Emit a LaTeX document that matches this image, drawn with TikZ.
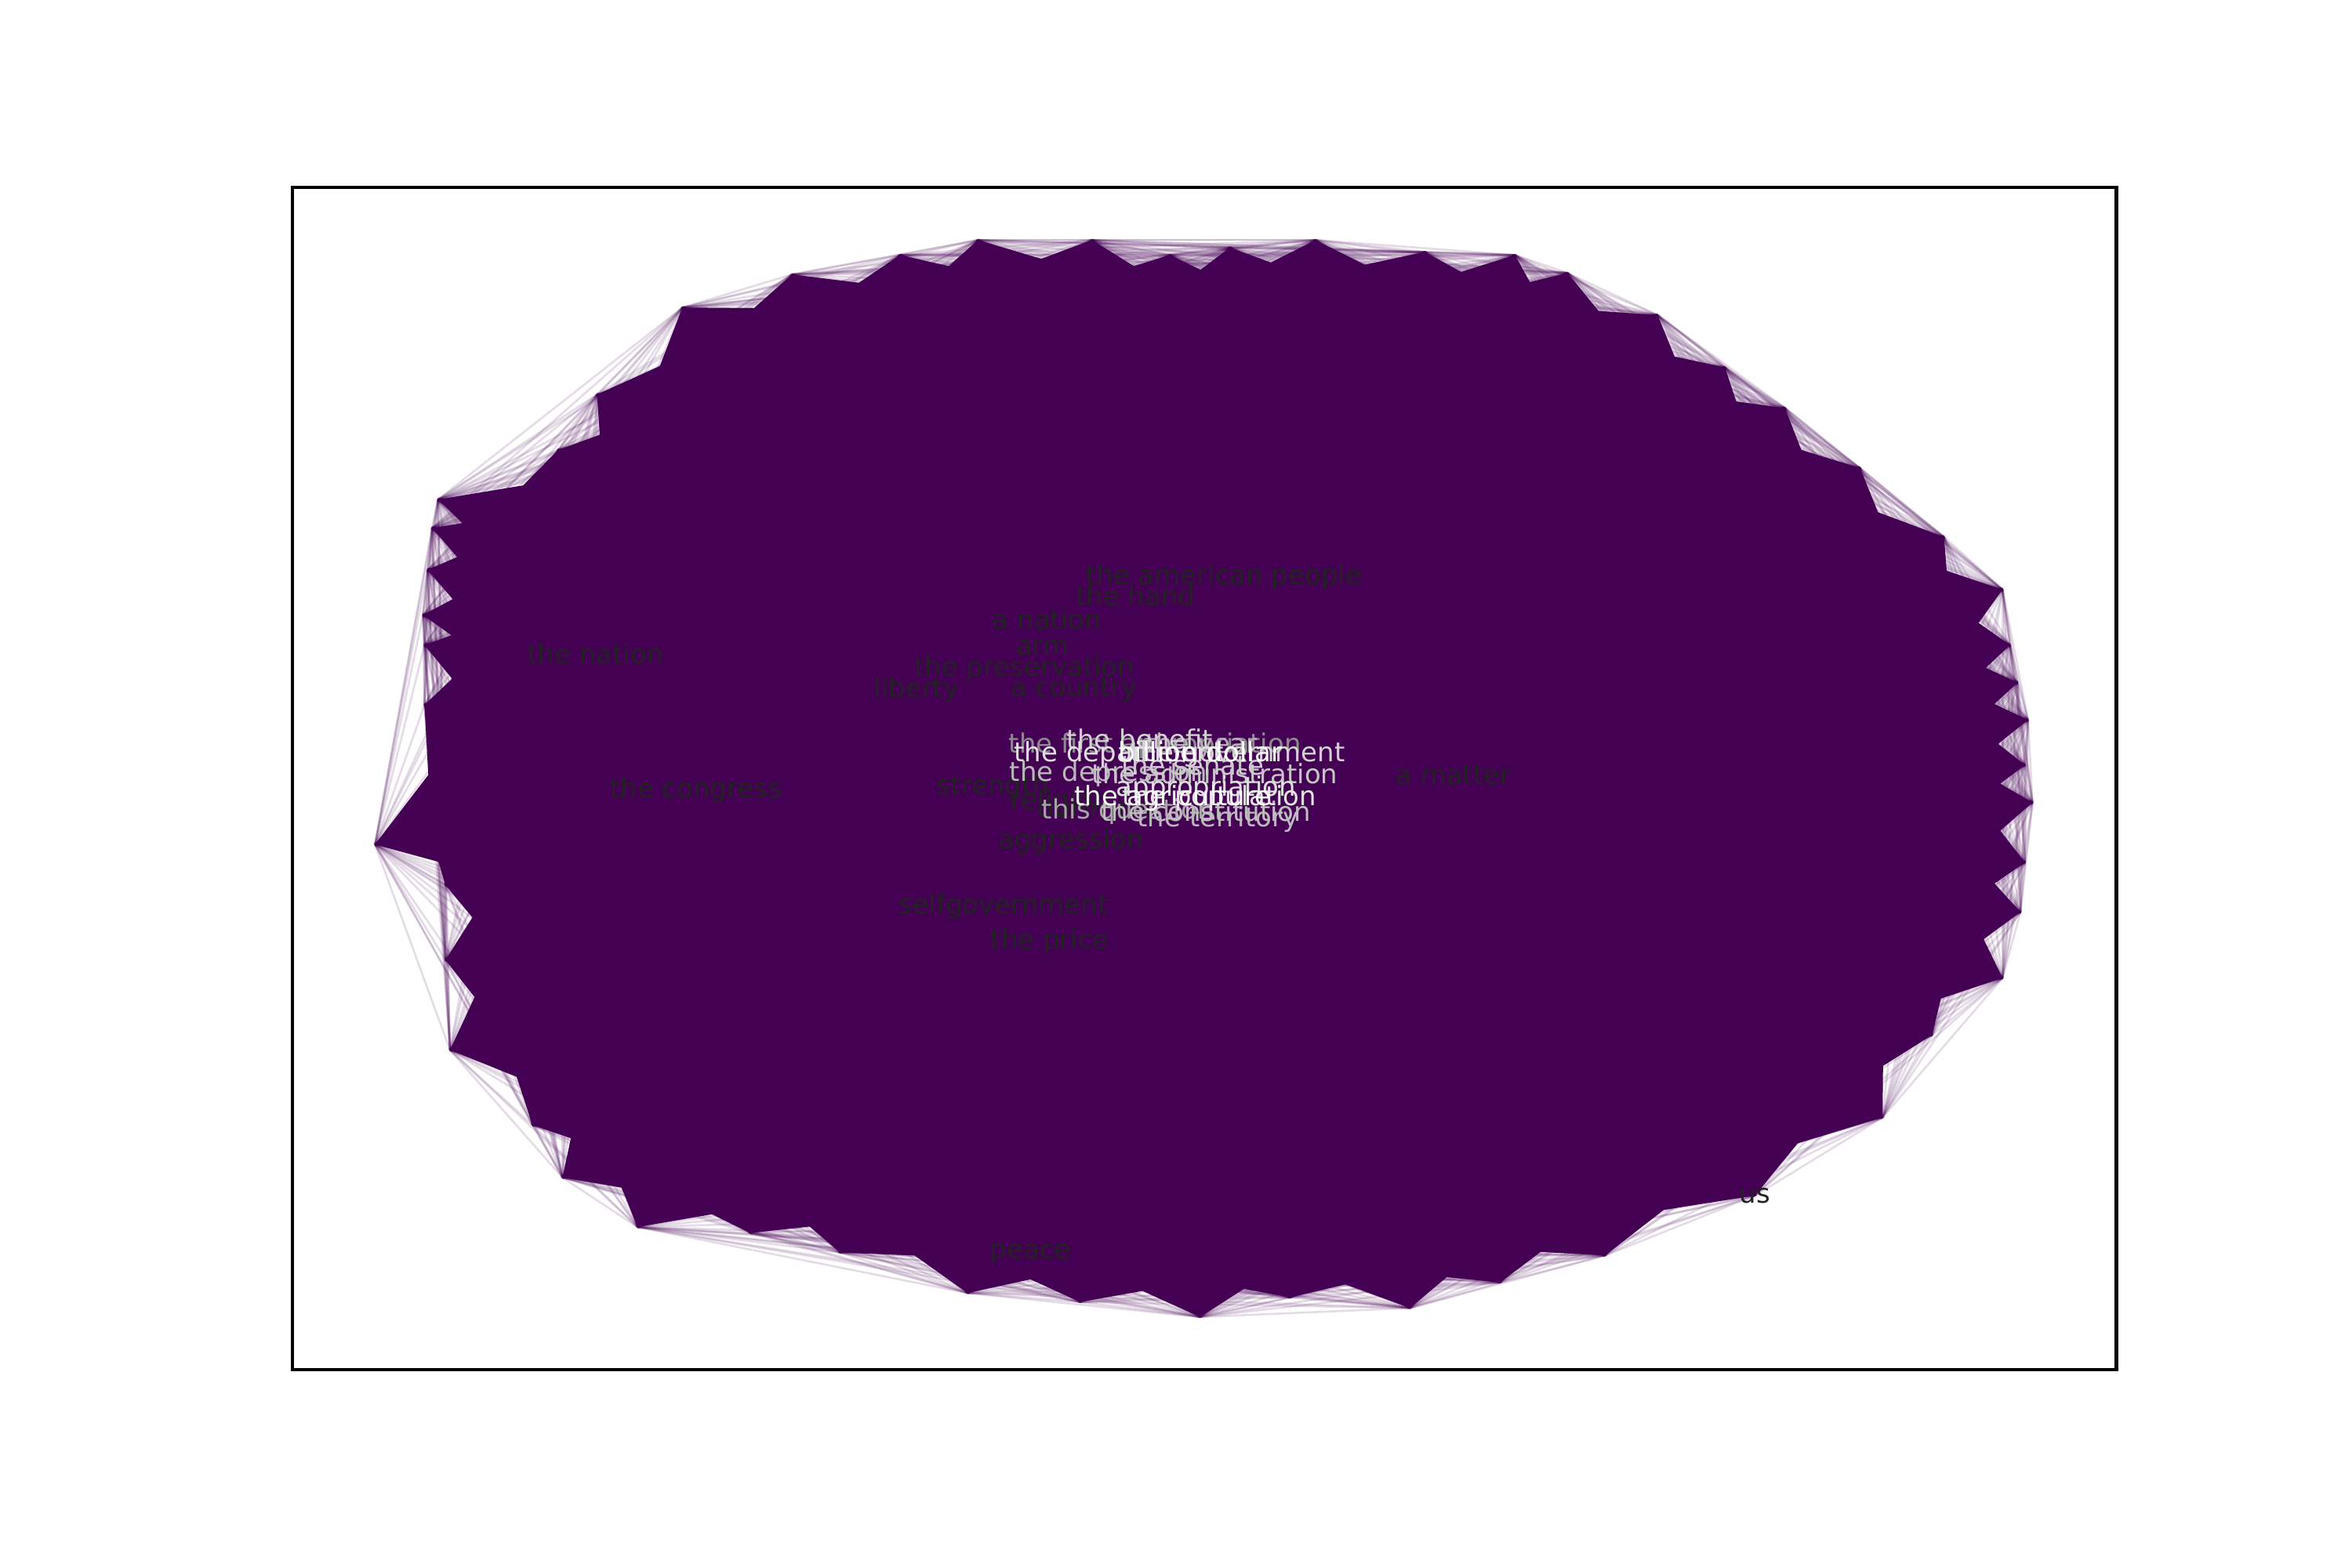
\documentclass[tikz,border=0pt]{standalone}
\usepackage{fontspec}
\setmainfont{DejaVu Sans}
\usetikzlibrary{calc}
\definecolor{vir}{HTML}{440154}
\definecolor{dk}{HTML}{222222}
\begin{document}
\begin{tikzpicture}[x=1.9133pt,y=-1.9133pt,
  edge/.style={draw=vir,line width=2.6pt,opacity=0.14},
  core/.style={fill=vir},
  lab/.style={font=\fontsize{34}{40}\selectfont,inner sep=0pt,anchor=center},
  frame/.style={draw=black,line width=4.5pt}]
\useasboundingbox (0,0) rectangle (1568,1045);
\fill[white] (0,0) rectangle (1568,1045);
\coordinate (C) at (810,520);
% graph nodes: ring first (in order round the rim), then inner nodes
\foreach \x/\y [count=\i] in {
 250/563, 283/470, 283/430, 282/410, 285/380, 288/352, 292/333, 372/300,
 398/263, 455/205, 528/183, 600/170, 652/160, 728/160, 780/170, 820/165,
 877/160, 950/168, 1010/170, 1045/182, 1105/210, 1150/245, 1190/272, 1240/312,
 1296/358, 1335/393, 1340/430, 1345/455, 1352/480, 1350/510, 1355/535, 1350/575,
 1347/608, 1335/652, 1288/690, 1255/745, 1170/797, 1070/837, 1000/855, 940/872,
 860/865, 800/878, 720/868, 645/862, 560/835, 500/822, 425/818, 375/785,
 355/750, 300/700, 297/640, 297/590,
 397/436, 464/527, 816/385, 757/397, 698/413, 695/432, 683/446, 611/460,
 716/460, 969/517, 662/525, 707/535, 729/540, 714/561, 669/604, 700/628,
 687/836, 770/497, 752/541, 760/493, 801/497, 800/501, 746/503, 825/503,
 739/516, 810/516, 795/510, 804/526, 782/532, 813/532, 804/541, 812/546}
 {\coordinate (n\i) at (\x,\y);}
% dense core where the edges overlap completely
\fill[core] (n1) \foreach \i [evaluate=\i as \j using {int(mod(\i,52)+1)}] in {1,...,52}
   { -- ($(n\i)!0.5!(n\j)!0.035!(C)$) -- (n\j) } -- cycle;
% connectors: every pair of nodes
\foreach \i in {1,...,83}{
  \pgfmathtruncatemacro\k{\i+1}
  \foreach \j in {\k,...,84}{\draw[edge] (n\i) -- (n\j);}
}
% labels
\foreach \x/\y/\t/\c [count=\i] in {
 1170/797/us/dk,
 397/436/the nation/dk, 464/527/the congress/dk, 816/385/the american people/dk,
 757/397/the hand/dk, 698/413/a nation/dk, 695/432/arm/dk,
 683/446/the preservation/dk, 611/460/liberty/dk, 716/460/a country/dk,
 969/517/a matter/dk, 662/525/strength/dk, 707/535/religion/dk,
 729/540/our men/dk, 714/561/aggression/dk, 669/604/selfgovernment/dk,
 700/628/the price/dk, 687/836/peace/dk,
 770/497/the first appropriation/gray!90, 752/541/this question/gray!70,
 801/497/the year/gray!60, 739/516/the depression/gray!55,
 812/546/the territory/gray!55, 804/541/the constitution/gray!50,
 810/516/the administration/gray!45, 795/510/the senate/gray!40,
 825/503/the government/gray!35, 760/493/the benefit/gray!35,
 746/503/the department/gray!25, 804/526/appropriation/gray!25,
 813/532/the population/gray!20, 782/532/the agriculture/gray!5,
 800/501/billion dollar/white}
 {\node[lab,text=\c] (t\i) at (\x,\y) {\t};}
\draw[frame] (195,125) rectangle (1411,913);
\end{tikzpicture}
\end{document}
